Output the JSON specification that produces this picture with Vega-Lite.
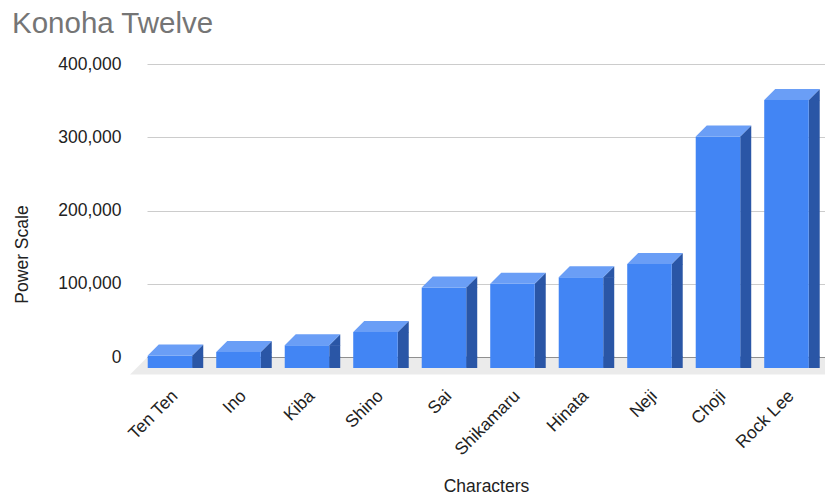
{
  "$schema": "https://vega.github.io/schema/vega-lite/v6.json",
  "width": 678,
  "height": 293,
  "autosize": {"type": "none"},
  "padding": {"left": 147, "top": 64, "right": 0, "bottom": 140},
  "background": "white",
  "title": {
    "text": "Konoha Twelve",
    "anchor": "start",
    "frame": "group",
    "font": "Liberation Sans",
    "fontSize": 29.5,
    "fontWeight": "normal",
    "color": "#757575",
    "baseline": "alphabetic",
    "offset": 0,
    "dx": -135,
    "dy": 7
  },
  "config": {
    "view": {"stroke": null},
    "font": "Liberation Sans",
    "axis": {
      "labelFont": "Liberation Sans",
      "titleFont": "Liberation Sans",
      "labelFontSize": 17.5,
      "titleFontSize": 17.5,
      "titleFontWeight": "normal",
      "labelColor": "#222222",
      "titleColor": "#222222"
    }
  },
  "data": {
    "values": [
      {"Character": "Ten Ten", "Power": 17000},
      {"Character": "Ino", "Power": 22000},
      {"Character": "Kiba", "Power": 31000},
      {"Character": "Shino", "Power": 49000},
      {"Character": "Sai", "Power": 110000},
      {"Character": "Shikamaru", "Power": 115000},
      {"Character": "Hinata", "Power": 124000},
      {"Character": "Neji", "Power": 142000},
      {"Character": "Choji", "Power": 316000},
      {"Character": "Rock Lee", "Power": 366000}
    ]
  },
  "encoding": {
    "x": {
      "field": "Character",
      "type": "nominal",
      "sort": null,
      "scale": {"paddingInner": 0.35, "paddingOuter": 0.124, "align": 0.69},
      "axis": {
        "title": "Characters",
        "labelAngle": -45,
        "labelAlign": "right",
        "labelBaseline": "middle",
        "labelPadding": 36,
        "labelOffset": -6,
        "ticks": false,
        "tickSize": 0,
        "domain": false,
        "grid": false,
        "titleY": 129,
        "titleBaseline": "middle"
      }
    },
    "y": {
      "field": "Power",
      "type": "quantitative",
      "scale": {"domain": [0, 400000], "nice": false, "zero": true},
      "axis": {
        "title": "Power Scale",
        "values": [0, 100000, 200000, 300000, 400000],
        "format": ",.0f",
        "ticks": false,
        "tickSize": 0,
        "domain": false,
        "labelPadding": 26,
        "grid": true,
        "gridColor": {"condition": {"test": "datum.value === 0", "value": "#333333"}, "value": "#cccccc"},
        "titleX": -125,
        "titleY": 190,
        "titleAlign": "center",
        "titleBaseline": "middle",
        "titleAngle": -90
      }
    }
  },
  "layer": [
    {
      "data": {"values": [{"base": 0}]},
      "mark": {"type": "rule", "color": "#ebebeb", "strokeWidth": 17, "yOffset": 9},
      "encoding": {
        "x": null,
        "y": {"field": "base", "type": "quantitative"}
      }
    },
    {
      "data": {"values": [{"base": 0}]},
      "mark": {"type": "point", "shape": "M-33.95,0.5L-33.95,17.5L-50.95,17.5Z", "size": 4, "filled": true, "opacity": 1, "strokeWidth": 0, "color": "#ebebeb"},
      "encoding": {
        "x": {"datum": "Ten Ten", "type": "nominal"},
        "y": {"field": "base", "type": "quantitative"}
      }
    },
    {
      "mark": {"type": "point", "shape": "M11.25,-0.5L22.25,-0.5L22.25,0L11.25,11Z", "size": 4, "filled": true, "opacity": 1, "strokeWidth": 0, "color": "#2a56a6"},
      "encoding": {
        "y": {"datum": 0, "type": "quantitative"}
      }
    },
    {
      "mark": {"type": "bar", "width": 11, "xOffset": 16.75, "yOffset": 11, "color": "#2a56a6"}
    },
    {
      "mark": {"type": "point", "shape": "M11.25,11L22.25,0L22.25,11.5L11.25,11.5Z", "size": 4, "filled": true, "opacity": 1, "strokeWidth": 0, "color": "#2a56a6"}
    },
    {
      "mark": {"type": "bar", "width": 44.5, "xOffset": -11, "yOffset": 11, "y2Offset": 11, "color": "#4285f4"}
    },
    {
      "mark": {"type": "point", "shape": "M-33.25,11L-22.25,0L22.25,0L11.25,11Z", "size": 4, "filled": true, "opacity": 1, "strokeWidth": 0, "color": "#6a9ef6"}
    }
  ]
}
